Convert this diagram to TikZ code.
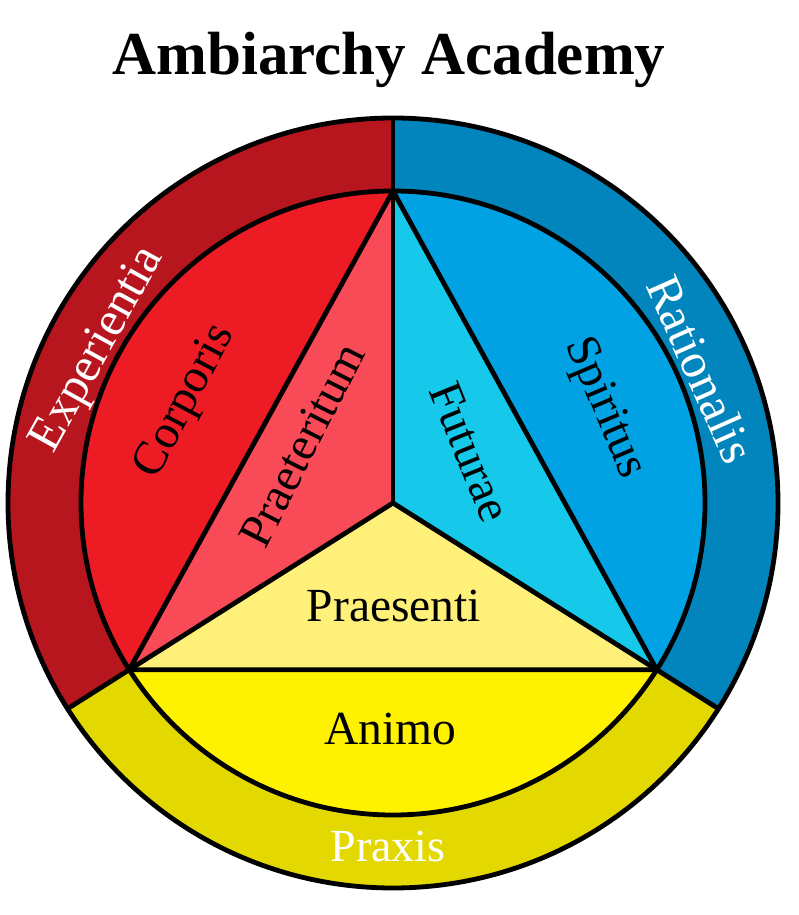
\documentclass[tikz,border=0pt]{standalone}
\usepackage{fontspec}
\setmainfont{Liberation Serif}
\usetikzlibrary{calc}
\definecolor{ringRed}{HTML}{B8161F}
\definecolor{ringBlue}{HTML}{0285BC}
\definecolor{ringYel}{HTML}{E3D900}
\definecolor{inRed}{HTML}{ED1C24}
\definecolor{inBlue}{HTML}{00A2E3}
\definecolor{inYel}{HTML}{FFF200}
\definecolor{triPink}{HTML}{F94A57}
\definecolor{triCyan}{HTML}{16C8E9}
\definecolor{triYel}{HTML}{FFF07A}
\begin{document}
\begin{tikzpicture}[x=1pt,y=1pt,line width=4.8pt,line join=round,
  ringtxt/.style={text=white,font=\fontsize{49}{52}\selectfont,inner sep=0pt},
  intxt/.style={text=black,font=\fontsize{47.5}{50}\selectfont,inner sep=0pt},
  titletxt/.style={text=black,font=\fontsize{61}{64}\selectfont\bfseries,inner sep=0pt}]
\useasboundingbox (0,0) rectangle (799,915);
\def\RO{385pt}\def\RI{312pt}
\coordinate (O) at (393,412);
\coordinate (A) at ([shift={(90:\RI)}]O);
\coordinate (L) at ([shift={(212.3:\RI)}]O);
\coordinate (B) at ([shift={(-32.3:\RI)}]O);
\coordinate (A2) at ([shift={(90:\RO)}]O);
\coordinate (L2) at ([shift={(212.3:\RO)}]O);
\coordinate (B2) at ([shift={(-32.3:\RO)}]O);
% outer ring sectors
\fill[ringRed] (O) -- (A2) arc[start angle=90,end angle=212.3,radius=\RO] -- cycle;
\fill[ringBlue] (O) -- (A2) arc[start angle=90,end angle=-32.3,radius=\RO] -- cycle;
\fill[ringYel] (O) -- (L2) arc[start angle=212.3,end angle=327.7,radius=\RO] -- cycle;
% inner sectors
\fill[inRed] (O) -- (A) arc[start angle=90,end angle=212.3,radius=\RI] -- cycle;
\fill[inBlue] (O) -- (A) arc[start angle=90,end angle=-32.3,radius=\RI] -- cycle;
\fill[inYel] (O) -- (L) arc[start angle=212.3,end angle=327.7,radius=\RI] -- cycle;
% triangles
\fill[triPink] (A) -- (L) -- (O) -- cycle;
\fill[triCyan] (A) -- (O) -- (B) -- cycle;
\fill[triYel] (L) -- (O) -- (B) -- cycle;
% outlines
\draw (O) circle[radius=\RO];
\draw (O) circle[radius=\RI];
\draw (A) -- (L) -- (B) -- cycle;
\draw (O) -- (A);
\draw (O) -- (L);
\draw (O) -- (B);
\draw (A) -- (A2);
\draw (L) -- (L2);
\draw (B) -- (B2);
% texts
\node[titletxt,anchor=base] (title) at (389,840) {Ambiarchy Academy};
\node[ringtxt,rotate=61] (exp) at (99,565) {Experientia};
\node[ringtxt,rotate=-66] (rat) at (701,546) {Rationalis};
\node[ringtxt,font=\fontsize{46}{50}\selectfont,anchor=base] (praxis) at (388,53) {Praxis};
\node[intxt,rotate=62] (corp) at (186,513) {Corporis};
\node[intxt,rotate=-67] (spir) at (604,507) {Spiritus};
\node[intxt,rotate=63] (praet) at (302,470) {Praeteritum};
\node[intxt,rotate=-68] (fut) at (470,463) {Futurae};
\node[intxt,anchor=base] (praes) at (394,293) {Praesenti};
\node[intxt,anchor=base] (animo) at (390,170) {Animo};
\end{tikzpicture}
\end{document}
